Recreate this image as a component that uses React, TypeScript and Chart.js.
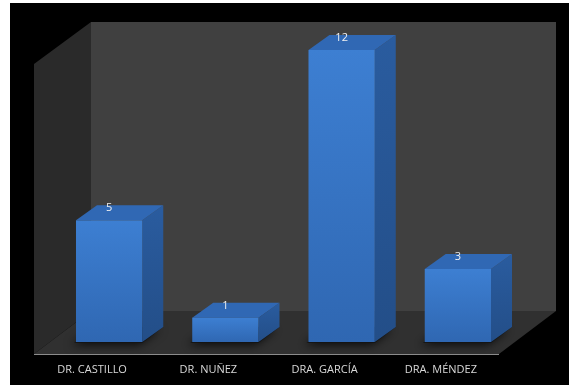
import React, { useEffect, useRef } from "react";
import { Chart, registerables } from "chart.js";

Chart.register(...registerables);

const categories: string[] = ["DR. CASTILLO", "DR. NUÑEZ", "DRA. GARCÍA", "DRA. MÉNDEZ"];
const values: number[] = [5, 1, 12, 3];
const yMin = 0;
const yMax = 12;

const W = 559;
const H = 382;

const excel3d = {
  id: "excel3d",
  beforeDraw(chart: any) {
    const { ctx, chartArea, scales } = chart;
    const L = chartArea.left;
    const R = chartArea.right;
    const base = scales.y.getPixelForValue(0);
    const fy = base + 12;
    const dx = 57;
    const dy = 43;
    const top = 19;
    ctx.save();
    ctx.fillStyle = "#000000";
    ctx.fillRect(0, 0, chart.width, chart.height);
    // back wall
    ctx.fillStyle = "#404040";
    ctx.fillRect(L + dx, top, R - L, fy - dy - top);
    // left wall
    ctx.fillStyle = "#2a2a2a";
    ctx.beginPath();
    ctx.moveTo(L + dx, top);
    ctx.lineTo(L + dx, fy - dy);
    ctx.lineTo(L, fy);
    ctx.lineTo(L, top + dy - 1);
    ctx.closePath();
    ctx.fill();
    // floor
    ctx.fillStyle = "#303030";
    ctx.beginPath();
    ctx.moveTo(L + dx, fy - dy);
    ctx.lineTo(R + dx, fy - dy);
    ctx.lineTo(R, fy);
    ctx.lineTo(L, fy);
    ctx.closePath();
    ctx.fill();
    // front floor edge
    ctx.strokeStyle = "#8c8c8c";
    ctx.lineWidth = 1;
    ctx.beginPath();
    ctx.moveTo(L, fy + 0.5);
    ctx.lineTo(R, fy + 0.5);
    ctx.stroke();
    ctx.restore();
  },
  afterDatasetsDraw(chart: any) {
    const { ctx, scales } = chart;
    const meta = chart.getDatasetMeta(0);
    const base0 = scales.y.getPixelForValue(0);
    const fy = base0 + 12;
    const ddx = 21;
    const ddy = 15;
    const shift = 17;
    ctx.save();
    meta.data.forEach((bar: any, i: number) => {
      const p = bar.getProps(["x", "y", "base", "width"], true);
      const l = p.x - p.width / 2 + shift;
      const r = p.x + p.width / 2 + shift;
      const t = p.y;
      const b = p.base;
      // floor shadow
      ctx.save();
      ctx.shadowColor = "rgba(0,0,0,0.85)";
      ctx.shadowBlur = 10;
      ctx.shadowOffsetX = -3;
      ctx.shadowOffsetY = 2;
      ctx.fillStyle = "rgba(20,20,20,0.9)";
      ctx.beginPath();
      ctx.moveTo(l - 2, b + 1);
      ctx.lineTo(r, b + 1);
      ctx.lineTo(r + ddx, b - ddy);
      ctx.lineTo(l + ddx, b - ddy);
      ctx.closePath();
      ctx.fill();
      ctx.restore();
      // side face
      const sg = ctx.createLinearGradient(0, t - ddy, 0, b);
      sg.addColorStop(0, "#2a5c9f");
      sg.addColorStop(1, "#234e88");
      ctx.fillStyle = sg;
      ctx.beginPath();
      ctx.moveTo(r, t);
      ctx.lineTo(r + ddx, t - ddy);
      ctx.lineTo(r + ddx, b - ddy);
      ctx.lineTo(r, b);
      ctx.closePath();
      ctx.fill();
      // top face
      ctx.fillStyle = "#3068b4";
      ctx.beginPath();
      ctx.moveTo(l, t);
      ctx.lineTo(l + ddx, t - ddy);
      ctx.lineTo(r + ddx, t - ddy);
      ctx.lineTo(r, t);
      ctx.closePath();
      ctx.fill();
      // front face
      const fg = ctx.createLinearGradient(0, t, 0, b);
      fg.addColorStop(0, "#3d7fd2");
      fg.addColorStop(1, "#2f67b2");
      ctx.fillStyle = fg;
      ctx.fillRect(l, t, r - l, b - t);
      // value label
      ctx.fillStyle = "#f2f2f2";
      ctx.font = "11px 'Open Sans', 'DejaVu Sans', sans-serif";
      ctx.textAlign = "center";
      ctx.textBaseline = "middle";
      ctx.fillText(String(values[i]), (l + r) / 2, t - 12);
    });
    // category labels
    ctx.fillStyle = "#d9d9d9";
    ctx.font = "11px 'Open Sans', 'DejaVu Sans', sans-serif";
    ctx.textAlign = "center";
    ctx.textBaseline = "middle";
    categories.forEach((c, i) => {
      ctx.fillText(c, scales.x.getPixelForTick(i), fy + 16);
    });
    ctx.restore();
  },
};

export default function App() {
  const ref = useRef<HTMLCanvasElement | null>(null);
  useEffect(() => {
    if (!ref.current) return;
    const chart = new Chart(ref.current, {
      type: "bar",
      data: {
        labels: categories,
        datasets: [
          {
            data: values,
            backgroundColor: "rgba(0,0,0,0)",
            borderWidth: 0,
            barPercentage: 0.57,
            categoryPercentage: 1,
          },
        ],
      },
      options: {
        responsive: false,
        animation: false,
        devicePixelRatio: 1,
        layout: { padding: { left: 24, right: 70, top: 47, bottom: 43 } },
        plugins: { legend: { display: false }, tooltip: { enabled: false } },
        scales: {
          x: { display: false },
          y: { display: false, min: yMin, max: yMax },
        },
      },
      plugins: [excel3d],
    });
    return () => chart.destroy();
  }, []);
  return (
    <div style={{ position: "absolute", left: 10, top: 3, width: W, height: H, background: "#000" }}>
      <canvas ref={ref} width={W} height={H} style={{ display: "block", width: W, height: H }} />
    </div>
  );
}
